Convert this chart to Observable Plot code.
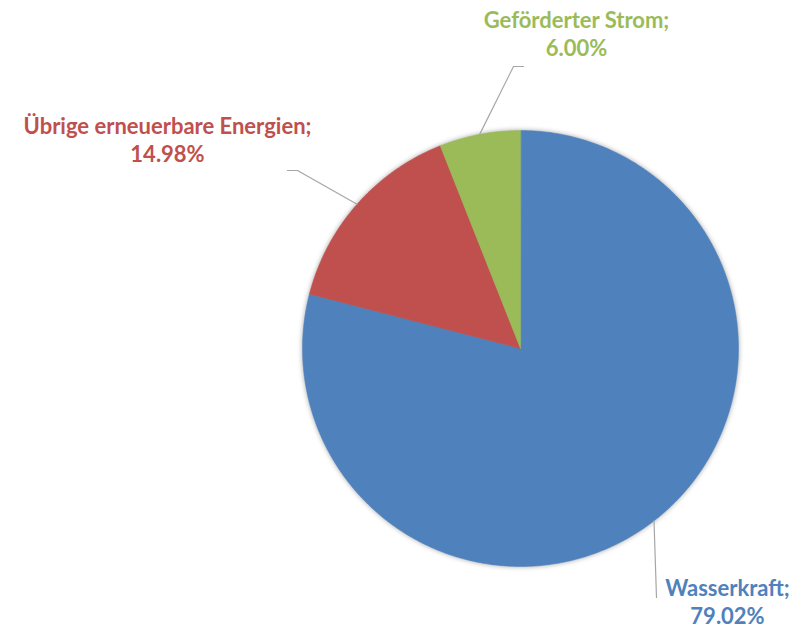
<!DOCTYPE html>
<html><head><meta charset="utf-8">
<script src="https://cdn.jsdelivr.net/npm/d3@7"></script>
<script src="https://cdn.jsdelivr.net/npm/@observablehq/plot@0.6"></script>
<style>
html,body{margin:0;padding:0;background:#fff;}
#chart svg g[aria-label="line"]:first-of-type{filter: drop-shadow(0px 0px 2.5px rgba(0,0,0,0.35));}
</style></head><body><div id="chart"></div>
<script>
// ---- data ----
const categories = ["Wasserkraft", "Übrige erneuerbare Energien", "Geförderter Strom"];
const values = [79.02, 14.98, 6.00];
const colors = ["#4F81BD", "#C0504D", "#9BBB59"];
const labelNames = ["Wasserkraft;", "Übrige erneuerbare Energien;", "Geförderter Strom;"];
const labelPercents = ["79.02%", "14.98%", "6.00%"];

// ---- layout ----
const W = 805, H = 630, CX = 520, CY = 348, R = 218;
const labelAnchor = [[727, 595], [167, 133], [576, 27]]; // baseline of first line
const elbows = [[[656, 597]], [[297, 170], [287, 170]], [[513, 66], [523, 66]]];
const lineGap = 28, fontSize = 22, fontFamily = "Lato, 'Open Sans', sans-serif";

const arcs = d3.pie().sort(null).value(d => d)(values);
const pt = (a, r = R) => [CX + r * Math.sin(a), CY - r * Math.cos(a)];

const slicePts = [];
arcs.forEach((a, i) => {
  const cat = categories[i];
  slicePts.push({cat, x: CX, y: CY});
  const n = Math.max(2, Math.ceil((a.endAngle - a.startAngle) / (Math.PI / 360)));
  for (let k = 0; k <= n; k++) {
    const t = a.startAngle + (a.endAngle - a.startAngle) * k / n;
    const [x, y] = pt(t);
    slicePts.push({cat, x, y});
  }
});

const leaderPts = [];
arcs.forEach((a, i) => {
  const mid = (a.startAngle + a.endAngle) / 2;
  const [x, y] = pt(mid);
  leaderPts.push({cat: categories[i], x, y});
  elbows[i].forEach(([ex, ey]) => leaderPts.push({cat: categories[i], x: ex, y: ey}));
});

const labels = categories.map((c, i) => ({
  cat: c, name: labelNames[i], pct: labelPercents[i],
  x: labelAnchor[i][0], y: labelAnchor[i][1], y2: labelAnchor[i][1] + lineGap
}));

const chart = Plot.plot({
  width: W, height: H,
  margin: 0,
  x: {domain: [0, W], range: [0, W], axis: null},
  y: {domain: [0, H], range: [0, H], axis: null},
  color: {domain: categories, range: colors},
  style: {background: "#fff", fontFamily},
  marks: [
    Plot.line(slicePts, {x: "x", y: "y", z: "cat", fill: "cat", stroke: "cat", strokeWidth: 0.5, curve: "linear-closed"}),
    Plot.line(leaderPts, {x: "x", y: "y", z: "cat", stroke: "#A6A6A6", strokeWidth: 1.2}),
    Plot.text(labels, {x: "x", y: "y", text: "name", fill: "cat", fontSize, fontWeight: "bold", textAnchor: "middle", lineAnchor: "bottom"}),
    Plot.text(labels, {x: "x", y: "y2", text: "pct", fill: "cat", fontSize, fontWeight: "bold", textAnchor: "middle", lineAnchor: "bottom"})
  ]
});
document.getElementById("chart").appendChild(chart);
</script></body></html>
